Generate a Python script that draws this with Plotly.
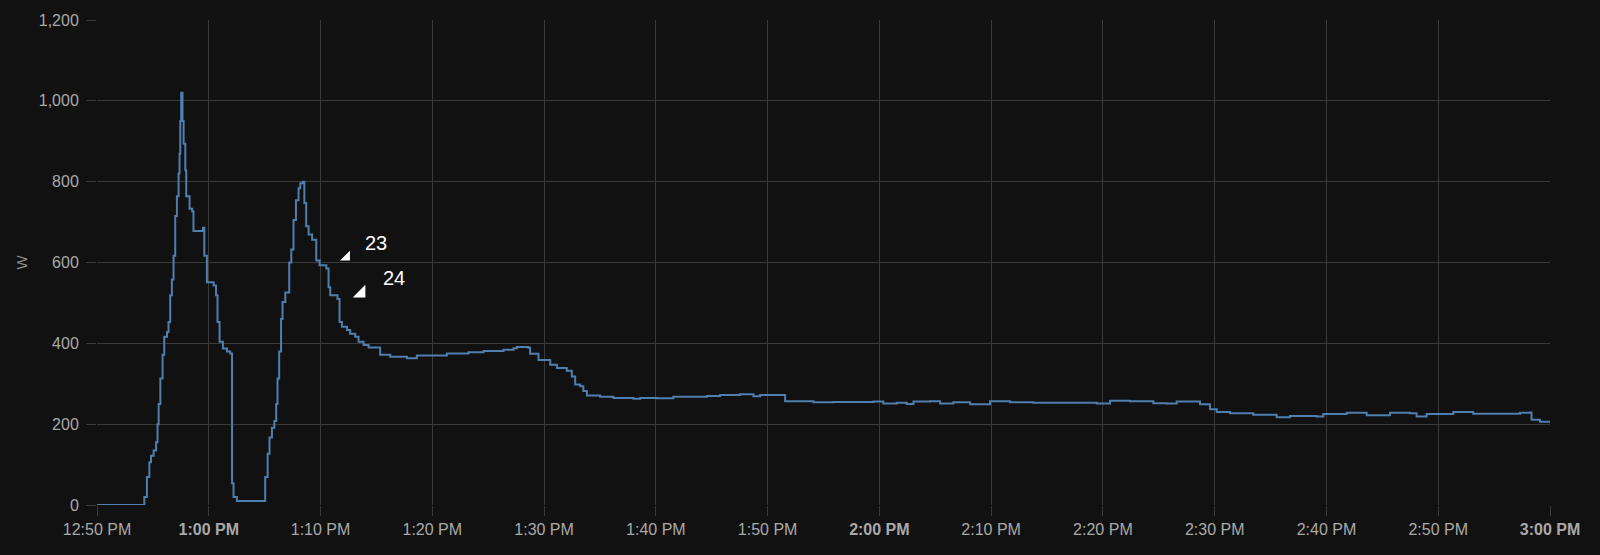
import plotly.graph_objects as go

DAY = "2024-01-01 "

times = [
    "12:50:00", "12:54:14", "12:54:28", "12:54:41", "12:54:50", "12:55:04", "12:55:17",
    "12:55:25", "12:55:31", "12:55:40", "12:55:52", "12:56:01", "12:56:16", "12:56:24",
    "12:56:33", "12:56:42", "12:56:51", "12:57:00", "12:57:09", "12:57:18", "12:57:23",
    "12:57:27", "12:57:32", "12:57:39", "12:57:45", "12:57:54", "12:57:59", "12:58:17",
    "12:58:31", "12:58:38", "12:59:29", "12:59:36", "12:59:50", "13:00:26", "13:00:39",
    "13:00:47", "13:00:58", "13:01:16", "13:01:38", "13:01:55", "13:02:05", "13:02:13",
    "13:02:31", "13:05:03", "13:05:16", "13:05:26", "13:05:39", "13:05:52", "13:06:02",
    "13:06:09", "13:06:18", "13:06:28", "13:06:36", "13:06:51", "13:07:12", "13:07:23",
    "13:07:35", "13:07:48", "13:08:02", "13:08:11", "13:08:25", "13:08:33", "13:08:43",
    "13:08:56", "13:09:15", "13:09:37", "13:09:55", "13:10:31", "13:10:43", "13:10:52",
    "13:11:31", "13:11:42", "13:11:55", "13:12:22", "13:12:39", "13:13:06", "13:13:24",
    "13:13:51", "13:14:18", "13:15:20", "13:16:14", "13:17:44", "13:18:37", "13:21:18",
    "13:23:14", "13:24:35", "13:26:22", "13:27:16", "13:27:34", "13:28:36", "13:28:45",
    "13:29:30", "13:30:33", "13:31:09", "13:32:02", "13:32:29", "13:32:47", "13:33:14",
    "13:33:31", "13:33:50", "13:35:01", "13:36:12", "13:38:00", "13:38:36", "13:40:05",
    "13:41:34", "13:44:34", "13:45:45", "13:47:32", "13:48:44", "13:49:20", "13:51:34",
    "13:54:06", "13:55:53", "13:59:28", "14:00:21", "14:01:33", "14:02:27", "14:03:03",
    "14:04:32", "14:05:26", "14:06:37", "14:08:07", "14:09:54", "14:11:41", "14:13:46",
    "14:16:46", "14:19:27", "14:20:38", "14:22:25", "14:24:31", "14:25:42", "14:26:36",
    "14:28:41", "14:29:35", "14:30:11", "14:31:22", "14:33:27", "14:35:33", "14:36:44",
    "14:39:07", "14:39:43", "14:41:49", "14:43:36", "14:45:41", "14:47:28", "14:48:04",
    "14:48:58", "14:51:21", "14:53:08", "14:57:19", "14:58:12", "14:58:21", "14:59:06",
    "15:00:00",
]

watts = [
    0, 20, 69, 106, 122, 135, 155,
    200, 250, 313, 372, 416, 428, 453,
    519, 558, 617, 715, 764, 820, 869,
    950, 1020, 950, 894, 828, 764, 733,
    727, 678, 686, 617, 551, 543, 519,
    453, 404, 387, 380, 375, 54, 20,
    10, 69, 127, 167, 191, 208, 250,
    313, 380, 460, 502, 526, 600, 632,
    705, 754, 784, 796, 800, 747, 690,
    669, 656, 605, 593, 585, 539, 519,
    510, 453, 441, 433, 424, 416, 404,
    396, 390, 372, 367, 363, 370, 375,
    378, 381, 384, 388, 391, 389, 374,
    359, 347, 339, 332, 318, 298, 294,
    282, 271, 268, 265, 263, 265, 264,
    268, 270, 272, 274, 269, 272, 257,
    254, 255, 256, 251, 253, 250, 256,
    257, 251, 254, 249, 257, 254, 253,
    253, 251, 258, 257, 252, 251, 256,
    249, 237, 230, 227, 223, 217, 220,
    219, 225, 228, 222, 228, 227, 219,
    225, 230, 226, 228, 229, 211, 206,
    203,
]

x_tick_times = ["12:50:00", "13:00:00", "13:10:00", "13:20:00", "13:30:00", "13:40:00",
                "13:50:00", "14:00:00", "14:10:00", "14:20:00", "14:30:00", "14:40:00",
                "14:50:00", "15:00:00"]
x_tick_labels = ["12:50 PM", "<b>1:00 PM</b>", "1:10 PM", "1:20 PM", "1:30 PM", "1:40 PM",
                 "1:50 PM", "<b>2:00 PM</b>", "2:10 PM", "2:20 PM", "2:30 PM", "2:40 PM",
                 "2:50 PM", "<b>3:00 PM</b>"]

note_labels = ["23", "24"]
note_marker_times = ["13:12:20", "13:13:38"]
note_marker_values = [613, 524]
note_marker_sizes = [11, 14]
note_text_times = ["13:14:59", "13:16:36"]
note_text_values = [649, 561]

fig = go.Figure()
fig.add_trace(go.Scatter(
    x=[DAY + t for t in times], y=watts, mode="lines",
    line=dict(color="#4f7fae", width=2, shape="hv"),
    hoverinfo="skip", showlegend=False,
))
fig.add_trace(go.Scatter(
    x=[DAY + t for t in note_marker_times], y=note_marker_values, mode="markers",
    marker=dict(symbol="triangle-se", color="#ffffff", size=note_marker_sizes,
                line=dict(width=0), opacity=1),
    hoverinfo="skip", showlegend=False,
))
for lab, t, v in zip(note_labels, note_text_times, note_text_values):
    fig.add_annotation(x=DAY + t, y=v, text=lab, showarrow=False,
                       font=dict(color="white", size=20, family="Liberation Sans"))

grid = "#3a3a3a"
fig.update_layout(
    width=1600, height=555,
    paper_bgcolor="#111111", plot_bgcolor="#111111",
    margin=dict(l=97, r=50, t=16, b=50),
    font=dict(family="Liberation Sans", size=16, color="#a9a9a9"),
    xaxis=dict(
        range=[DAY + "12:50:00", DAY + "15:00:00"],
        tickvals=[DAY + t for t in x_tick_times], ticktext=x_tick_labels,
        showgrid=True, gridcolor=grid, gridwidth=1,
        ticks="outside", ticklen=10, tickcolor=grid, tickwidth=1,
        zeroline=False, showline=False,
    ),
    yaxis=dict(
        range=[0, 1200], dtick=200, tickformat=",",
        showgrid=True, gridcolor=grid, gridwidth=1,
        ticks="outside", ticklen=10, tickcolor=grid, tickwidth=1,
        ticklabelstandoff=4,
        zeroline=False, showline=False,
        title=dict(text="W", font=dict(size=15, color="#8c8c8c"), standoff=7),
    ),
)
fig.write_html(
    "out.html",
    config={"displayModeBar": False},
    post_script="document.body.style.margin='0';document.body.style.background='#111111';",
)
